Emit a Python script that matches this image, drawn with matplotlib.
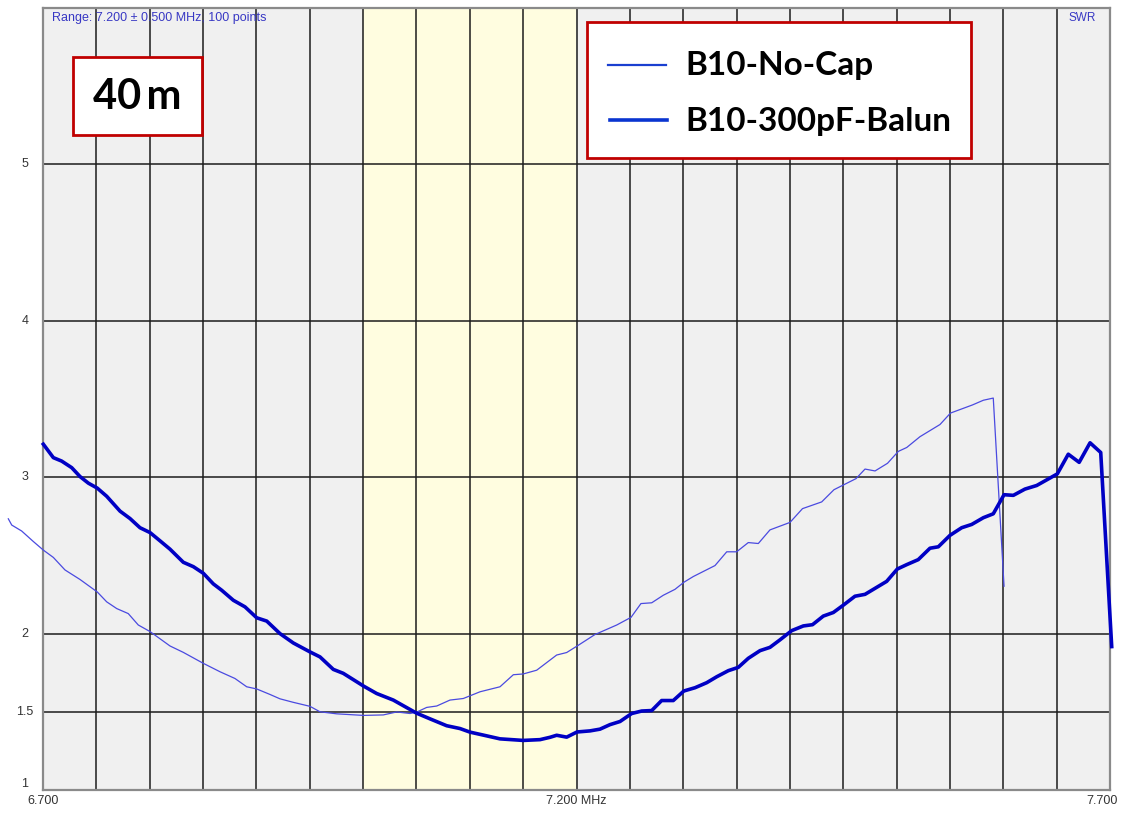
import matplotlib
matplotlib.use("Agg")
import matplotlib.pyplot as plt
from matplotlib.patches import Rectangle
from matplotlib.lines import Line2D

# ---------------- data ----------------
freq_nocap = [6.6675, 6.6707, 6.6800, 6.6909, 6.7003, 6.7097, 6.7206, 6.7347, 6.7509, 6.7597,
              6.7691, 6.7799, 6.7893, 6.8003, 6.8190, 6.8315, 6.8502, 6.8659, 6.8799, 6.8909,
              6.9003, 6.9127, 6.9221, 6.9343, 6.9502, 6.9596, 6.9753, 7.0002, 7.0189, 7.0315,
              7.0440, 7.0502, 7.0596, 7.0690, 7.0814, 7.0939, 7.1096, 7.1283, 7.1408, 7.1501,
              7.1627, 7.1814, 7.1908, 7.2009, 7.2173, 7.2377, 7.2511, 7.2604, 7.2705, 7.2813,
              7.2923, 7.3008, 7.3095, 7.3298, 7.3408, 7.3501, 7.3610, 7.3704, 7.3813, 7.4001,
              7.4118, 7.4298, 7.4413, 7.4620, 7.4704, 7.4798, 7.4915, 7.5016, 7.5095, 7.5219,
              7.5407, 7.5505, 7.5711, 7.5813, 7.5906, 7.6007]
swr_nocap = [2.734, 2.694, 2.656, 2.589, 2.534, 2.487, 2.407, 2.346, 2.266, 2.203,
             2.160, 2.128, 2.055, 2.013, 1.921, 1.880, 1.810, 1.756, 1.713, 1.660,
             1.646, 1.611, 1.583, 1.561, 1.535, 1.500, 1.487, 1.477, 1.480, 1.499,
             1.489, 1.498, 1.528, 1.537, 1.575, 1.585, 1.628, 1.660, 1.737, 1.742,
             1.766, 1.863, 1.879, 1.922, 1.994, 2.055, 2.104, 2.192, 2.197, 2.245,
             2.283, 2.329, 2.365, 2.435, 2.523, 2.523, 2.582, 2.576, 2.663, 2.711,
             2.799, 2.842, 2.920, 2.991, 3.052, 3.040, 3.089, 3.165, 3.190, 3.259,
             3.337, 3.410, 3.462, 3.492, 3.506, 2.303]

freq_balun = [6.7003, 6.7097, 6.7175, 6.7269, 6.7347, 6.7425, 6.7509, 6.7597, 6.7722, 6.7815,
              6.7909, 6.8003, 6.8097, 6.8190, 6.8315, 6.8409, 6.8502, 6.8596, 6.8675, 6.8784,
              6.8893, 6.9003, 6.9097, 6.9221, 6.9346, 6.9502, 6.9596, 6.9721, 6.9814, 7.0008,
              7.0127, 7.0283, 7.0502, 7.0627, 7.0783, 7.0908, 7.1002, 7.1127, 7.1283, 7.1501,
              7.1658, 7.1752, 7.1814, 7.1908, 7.2005, 7.2127, 7.2220, 7.2314, 7.2408, 7.2517,
              7.2611, 7.2705, 7.2798, 7.2907, 7.3006, 7.3111, 7.3220, 7.3314, 7.3423, 7.3516,
              7.3610, 7.3720, 7.3813, 7.3907, 7.4017, 7.4126, 7.4212, 7.4313, 7.4407, 7.4501,
              7.4610, 7.4704, 7.4907, 7.5007, 7.5095, 7.5203, 7.5313, 7.5391, 7.5500, 7.5610,
              7.5704, 7.5813, 7.5906, 7.6007, 7.6094, 7.6203, 7.6313, 7.6407, 7.6506, 7.6609,
              7.6711, 7.6813, 7.6913, 7.7016]
swr_balun = [3.211, 3.125, 3.103, 3.061, 3.004, 2.962, 2.930, 2.878, 2.783, 2.736,
             2.677, 2.646, 2.593, 2.540, 2.456, 2.428, 2.386, 2.318, 2.277, 2.213,
             2.171, 2.101, 2.080, 2.000, 1.940, 1.883, 1.851, 1.771, 1.746, 1.663,
             1.617, 1.575, 1.491, 1.455, 1.411, 1.393, 1.370, 1.351, 1.327, 1.317,
             1.322, 1.337, 1.350, 1.338, 1.371, 1.378, 1.389, 1.418, 1.438, 1.489,
             1.505, 1.508, 1.572, 1.572, 1.633, 1.654, 1.686, 1.724, 1.763, 1.784,
             1.842, 1.891, 1.912, 1.960, 2.019, 2.049, 2.057, 2.112, 2.135, 2.182,
             2.239, 2.251, 2.334, 2.413, 2.441, 2.473, 2.546, 2.555, 2.628, 2.677,
             2.698, 2.741, 2.766, 2.888, 2.884, 2.924, 2.947, 2.983, 3.021, 3.147,
             3.095, 3.220, 3.158, 1.917]

band = (7.0, 7.2)
x_range = (6.7, 7.7)
y_range = (1.0, 6.0)
y_grid = [1.5, 2, 3, 4, 5]
y_labels = ["1", "1.5", "2", "3", "4", "5"]
y_label_vals = [1, 1.5, 2, 3, 4, 5]
x_grid_step = 0.05
series_names = ["B10-No-Cap", "B10-300pF-Balun"]

SMALL = ["Liberation Sans", "DejaVu Sans"]
BIG = ["Lato", "DejaVu Sans"]

# ---------------- figure ----------------
W, H = 1131, 813
fig = plt.figure(figsize=(W / 100, H / 100), dpi=100)
fig.patch.set_facecolor("white")


def fx(px):
    return px / W


def fy(py):
    return 1 - py / H


ax = fig.add_axes([fx(43), fy(790), fx(1110) - fx(43), fy(8) - fy(790)])
ax.set_facecolor("#F0F0F0")
ax.set_xlim(*x_range)
ax.set_ylim(*y_range)

ax.axvspan(band[0], band[1], color="#FFFDE0", zorder=0.5, lw=0)

n_grid = int(round((x_range[1] - x_range[0]) / x_grid_step))
for i in range(1, n_grid):
    ax.axvline(x_range[0] + i * x_grid_step, color="#1c1c1c", lw=1.1, zorder=1)
for g in y_grid:
    ax.axhline(g, color="#1c1c1c", lw=1.1, zorder=1)

for s in ax.spines.values():
    s.set_color("#8a8a8a")
    s.set_linewidth(1.6)
ax.set_xticks([])
ax.set_yticks([])

ax.plot(freq_nocap, swr_nocap, color="#4a4ae0", lw=0.9, zorder=3, clip_on=False)
ax.plot(freq_balun, swr_balun, color="#0000C4", lw=2.6, zorder=4, clip_on=False,
        solid_joinstyle="round")

# axis labels
ytr = ax.get_yaxis_transform()
for v, lab in zip(y_label_vals, y_labels):
    ax.text(-18 / 1067, v, lab, transform=ytr, ha="center",
            va="bottom" if v == 1 else "center", fontsize=9, color="#333333", family=SMALL)

xtr = ax.get_xaxis_transform()
ax.text(6.7, -0.007, "6.700", transform=xtr, ha="center", va="top", fontsize=9,
        color="#333333", family=SMALL)
ax.text(7.2, -0.007, "7.200 MHz", transform=xtr, ha="center", va="top", fontsize=9,
        color="#333333", family=SMALL)
ax.text(7.7 + 8 / 1067, -0.007, "7.700", transform=xtr, ha="right", va="top", fontsize=9,
        color="#333333", family=SMALL)

fig.text(fx(52), fy(18), "Range: 7.200 \u00b1 0.500 MHz, 100 points", ha="left", va="center",
         fontsize=9, color="#3838c4", family=SMALL)
fig.text(fx(1096), fy(18), "SWR", ha="right", va="center", fontsize=8.5, color="#3838c4",
         family=SMALL)

# "40m" box
fig.add_artist(Rectangle((fx(73), fy(135)), fx(202) - fx(73), fy(57) - fy(135),
                         transform=fig.transFigure, facecolor="white", edgecolor="#C00000",
                         lw=2.0, zorder=10))
fig.text(fx(137), fy(97), "40\u2009m", ha="center", va="center", fontsize=30,
         fontweight="bold", family=BIG, color="black", zorder=11)

# legend box
fig.add_artist(Rectangle((fx(587), fy(158)), fx(971) - fx(587), fy(22) - fy(158),
                         transform=fig.transFigure, facecolor="white", edgecolor="#C00000",
                         lw=2.0, zorder=10))
fig.add_artist(Line2D([fx(608), fx(666)], [fy(65), fy(65)], transform=fig.transFigure,
                      color="#1a3fd0", lw=1.6, zorder=11))
fig.add_artist(Line2D([fx(610), fx(667)], [fy(120), fy(120)], transform=fig.transFigure,
                      color="#0a35d0", lw=2.6, zorder=11))
fig.text(fx(685), fy(66), series_names[0], ha="left", va="center", fontsize=24,
         fontweight="bold", family=BIG, color="black", zorder=11)
fig.text(fx(685), fy(122), series_names[1], ha="left", va="center", fontsize=24,
         fontweight="bold", family=BIG, color="black", zorder=11)

fig.savefig("out.png", dpi=100)
